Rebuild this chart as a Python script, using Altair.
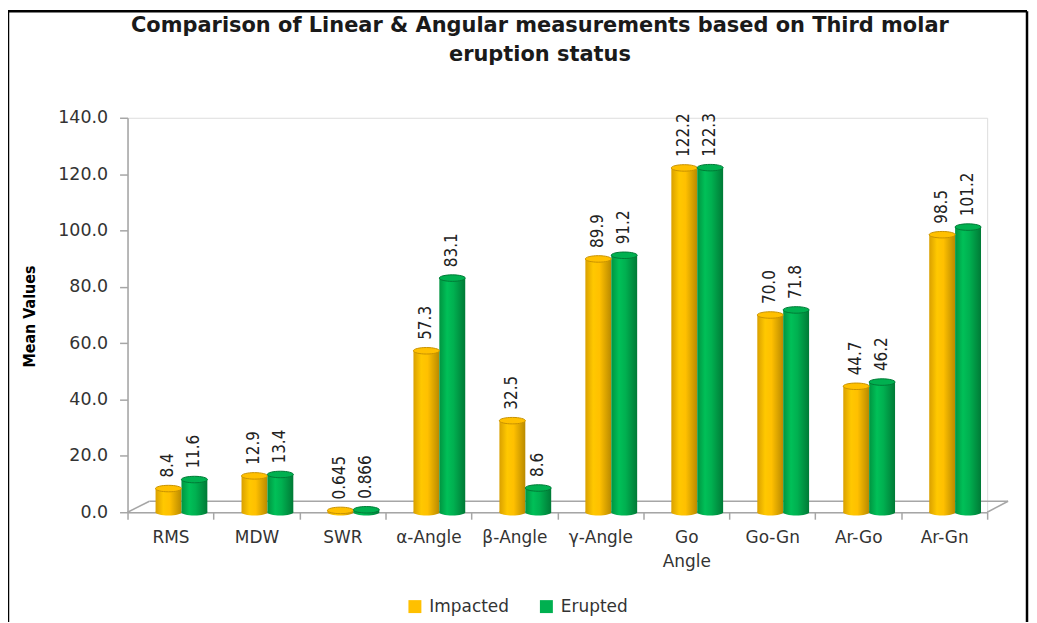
import altair as alt
import pandas as pd

categories = ["RMS", "MDW", "SWR", "α-Angle", "β-Angle", "γ-Angle", "Go Angle", "Go-Gn", "Ar-Go", "Ar-Gn"]
impacted = [8.4, 12.9, 0.645, 57.3, 32.5, 89.9, 122.2, 70.0, 44.7, 98.5]
erupted = [11.6, 13.4, 0.866, 83.1, 8.6, 91.2, 122.3, 71.8, 46.2, 101.2]
series = ["Impacted", "Erupted"]
colors = ["#FFC000", "#00B050"]
edge_colors = ["#C89200", "#007A36"]
y_ticks = [0, 20, 40, 60, 80, 100, 120, 140]
title_lines = ["Comparison of Linear & Angular measurements based on Third molar", "eruption status"]

rows = []
for c, a, b in zip(categories, impacted, erupted):
    rows.append({"Category": c, "Status": "Impacted", "Value": a})
    rows.append({"Category": c, "Status": "Erupted", "Value": b})
df = pd.DataFrame(rows)

W, H = 863, 396
AX = "#A6A6A6"

x_enc = alt.X(
    "Category:N", sort=categories, title=None,
    scale=alt.Scale(paddingInner=0, paddingOuter=0),
    axis=alt.Axis(
        labelAngle=0, labelFont="DejaVu Sans", labelFontSize=17, labelColor="#333333",
        labelPadding=10, labelLineHeight=25,
        labelExpr="datum.value == 'Go Angle' ? ['Go', 'Angle'] : datum.value",
        tickBand="extent", tickSize=7, tickColor=AX, domainColor=AX, domainWidth=1.5,
        tickWidth=1.5, grid=False,
    ),
)
xoff = alt.XOffset(
    "Status:N", sort=series,
    scale=alt.Scale(domain=series, paddingInner=0, paddingOuter=0.66, align=0.82),
)
y_enc = alt.Y(
    "Value:Q",
    scale=alt.Scale(domain=[0, 140], nice=False),
    axis=alt.Axis(
        values=y_ticks, format=".1f", title="Mean Values",
        titleFont="DejaVu Sans Condensed", titleFontSize=16, titleFontWeight="bold", titleColor="#000000",
        titleX=-98, titleY=199, titleAngle=270, titleAlign="center", titleBaseline="middle",
        labelFont="DejaVu Sans", labelFontSize=17.5, labelColor="#333333", labelPadding=12,
        tickSize=8, tickColor=AX, domainColor=AX, domainWidth=1.5, tickWidth=1.5, grid=False,
    ),
)

base = alt.Chart(df)


def grad(c0, c1, c2, c3):
    return alt.Gradient(
        gradient="linear", x1=0, x2=1, y1=0, y2=0,
        stops=[
            alt.GradientStop(offset=0, color=c0),
            alt.GradientStop(offset=0.3, color=c1),
            alt.GradientStop(offset=0.55, color=c2),
            alt.GradientStop(offset=1, color=c3),
        ],
    )


grad_imp = grad("#D9A000", "#FFC800", "#FFC000", "#B98A00")
grad_eru = grad("#009440", "#00C058", "#00B050", "#007A36")
ellipse = "M-1,0 A1,0.25 0 1,0 1,0 A1,0.25 0 1,0 -1,0 Z"

imp = base.transform_filter("datum.Status == 'Impacted'")
eru = base.transform_filter("datum.Status == 'Erupted'")

bars_imp = imp.mark_bar(fill=grad_imp, stroke=None).encode(x=x_enc, xOffset=xoff, y=y_enc)
bars_eru = eru.mark_bar(fill=grad_eru, stroke=None).encode(x=x_enc, xOffset=xoff, y=y_enc)

bottom_imp = imp.mark_point(shape=ellipse, size=680, filled=True, fill=grad_imp, opacity=1, strokeWidth=0).encode(
    x=x_enc, xOffset=xoff, y=alt.datum(0))
bottom_eru = eru.mark_point(shape=ellipse, size=680, filled=True, fill=grad_eru, opacity=1, strokeWidth=0).encode(
    x=x_enc, xOffset=xoff, y=alt.datum(0))

tops = base.mark_point(shape=ellipse, size=680, filled=True, opacity=1, strokeWidth=1).encode(
    x=x_enc, xOffset=xoff, y=y_enc,
    color=alt.Color(
        "Status:N", sort=series, scale=alt.Scale(domain=series, range=colors),
        legend=alt.Legend(
            title=None, orient="none", legendX=280, legendY=482, direction="horizontal",
            symbolType="square", symbolSize=169, symbolStrokeWidth=0,
            labelFont="DejaVu Sans", labelFontSize=17, labelColor="#333333",
            labelOffset=6, columnPadding=28,
        ),
    ),
    stroke=alt.Stroke("Status:N", sort=series, scale=alt.Scale(domain=series, range=edge_colors), legend=None),
)

labels = base.transform_calculate(
    label="datum.Value < 1 ? format(datum.Value, '.3f') : format(datum.Value, '.1f')"
).mark_text(
    angle=270, align="left", baseline="middle", dx=11,
    font="DejaVu Sans Condensed", fontSize=17, color="#222222",
).encode(x=x_enc, xOffset=xoff, y=y_enc, text="label:N")

one = pd.DataFrame({"k": [0]})
deco = alt.Chart(one)
title = deco.mark_text(
    text=title_lines, font="DejaVu Sans", fontSize=21, fontWeight="bold", color="#1A1A1A",
    align="center", baseline="alphabetic", lineHeight=29,
).encode(x=alt.value(414), y=alt.value(-86))
floor_back = deco.mark_rule(color=AX, strokeWidth=1.5).encode(
    x=alt.value(22), x2=alt.value(884), y=alt.value(385))
floor_left = deco.mark_rule(color=AX, strokeWidth=1.5).encode(
    x=alt.value(0), x2=alt.value(22), y=alt.value(396), y2=alt.value(385))
floor_right = deco.mark_rule(color=AX, strokeWidth=1.5).encode(
    x=alt.value(863), x2=alt.value(884), y=alt.value(396), y2=alt.value(385))
border_top = deco.mark_rule(color="#000000", strokeWidth=2.5).encode(
    x=alt.value(-120), x2=alt.value(903), y=alt.value(-107))
border_left = deco.mark_rule(color="#000000", strokeWidth=2.5).encode(
    x=alt.value(-120), y=alt.value(-107), y2=alt.value(510))
border_right = deco.mark_rule(color="#000000", strokeWidth=2.5).encode(
    x=alt.value(903), y=alt.value(-107), y2=alt.value(510))

chart = alt.layer(
    floor_back, floor_left, floor_right,
    bottom_imp, bottom_eru, bars_imp, bars_eru, tops, labels, title,
    border_top, border_left, border_right,
).properties(
    width=W, height=H,
    autosize=alt.AutoSizeParams(type="none"),
    padding={"left": 120, "top": 109, "right": 42, "bottom": 109},
).configure_view(stroke=None).configure(background="#FFFFFF")

chart.save("out.html", embed_options={"renderer": "svg", "actions": False})
